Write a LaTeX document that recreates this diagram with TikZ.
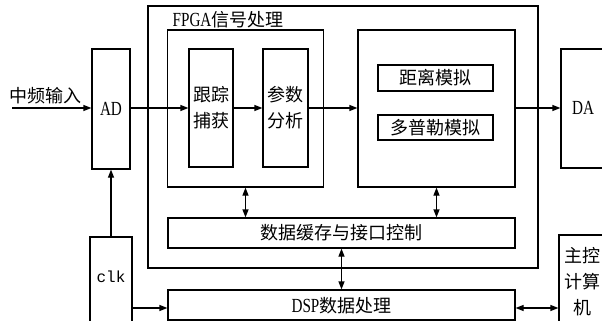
\documentclass[tikz,border=0pt]{standalone}
\usepackage{fontspec}
\setmainfont{Liberation Serif}
\setmonofont{Liberation Mono}
\newfontfamily\cjk{Noto Sans CJK SC}
\newfontfamily\lat[FakeStretch=0.76]{Liberation Serif}
\usetikzlibrary{arrows.meta}
\begin{document}
\begin{tikzpicture}[x=1pt,y=-1pt, line width=1.2pt,
  box/.style={draw, rectangle, inner sep=0pt},
  lbl/.style={font=\fontsize{18}{26}\selectfont\cjk, align=center, inner sep=0pt},
  latin/.style={font=\fontsize{20}{24}\selectfont\lat, inner sep=0pt},
  arr/.style={-{Triangle[length=8pt,width=6pt]}},
  darr/.style={{Triangle[length=8pt,width=6pt]}-{Triangle[length=8pt,width=6pt]}}]
\useasboundingbox (0,0) rectangle (602,321);
\clip (0,0) rectangle (602,321);
% boxes
\node[box, minimum width=390pt, minimum height=262pt] (fpga) at (343,137) {};
\node[lbl, anchor=west] (title) at (172,20) {{\fontsize{20}{24}\selectfont\lat FPGA}\cjk 信号处理};
\node[box, minimum width=156pt, minimum height=157pt] (lin) at (245.5,108.5) {};
\node[box, minimum width=44pt, minimum height=118pt, lbl] (track) at (211,108) {跟踪\\捕获};
\node[box, minimum width=45pt, minimum height=118pt, lbl] (param) at (285.5,108) {参数\\分析};
\node[box, minimum width=38pt, minimum height=120pt, latin] (ad) at (111,109) {AD};
\node[box, minimum width=157pt, minimum height=157pt] (rin) at (436.5,108.5) {};
\node[box, minimum width=115pt, minimum height=26pt, lbl] (range) at (435.5,78) {距离模拟};
\node[box, minimum width=115pt, minimum height=25pt, lbl] (dopp) at (435.5,127.5) {多普勒模拟};
\node[box, minimum width=90pt, minimum height=119pt] (da) at (606,108.5) {};
\node[latin] (datxt) at (583,108) {DA};
\node[box, minimum width=347pt, minimum height=30pt, lbl] (buf) at (341.5,233) {数据缓存与接口控制};
\node[box, minimum width=347pt, minimum height=30pt] (dsp) at (341.5,305) {};
\node[lbl] (dsptxt) at (341.5,306) {{\fontsize{20}{24}\selectfont\lat DSP}\cjk 数据处理};
\node[box, minimum width=42pt, minimum height=120pt] (clk) at (111,297) {};
\node[font=\fontsize{16}{20}\selectfont\ttfamily, inner sep=0pt] (clktxt) at (111,277) {clk};
\node[box, minimum width=90pt, minimum height=120pt] (host) at (604,295) {};
\node[lbl] (hosttxt) at (582,282) {主控\\计算\\机};
% connectors
\coordinate (inp) at (12,108);
\coordinate (ya) at (0,108);
\coordinate (yb) at (0,308);
\draw[arr] (inp) -- (ad.west |- ya);
\draw[arr] (ad.east |- ya) -- (track.west |- ya);
\draw[arr] (track.east |- ya) -- (param.west |- ya);
\draw[arr] (param.east |- ya) -- (rin.west |- ya);
\draw[arr] (rin.east |- ya) -- (da.west |- ya);
\node[lbl, anchor=south west] (intxt) at (9,105) {中频输入};
\draw[darr] (lin.south) -- (lin.south |- buf.north);
\draw[darr] (rin.south) -- (rin.south |- buf.north);
\draw[darr] (buf.south) -- (buf.south |- dsp.north);
\draw[arr] (clk.north) -- (ad.south);
\draw[arr] (clk.east |- yb) -- (dsp.west |- yb);
\draw[darr] (dsp.east |- yb) -- (host.west |- yb);
\end{tikzpicture}
\end{document}
